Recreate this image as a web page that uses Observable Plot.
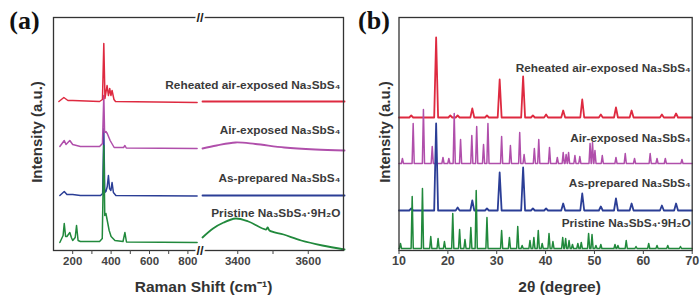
<!DOCTYPE html>
<html>
<head>
<meta charset="utf-8">
<script src="https://cdn.jsdelivr.net/npm/d3@7"></script>
<script src="https://cdn.jsdelivr.net/npm/@observablehq/plot@0.6"></script>
<style>
  html, body { margin: 0; padding: 0; background: #fff; }
  #wrap { position: relative; width: 700px; height: 298px; overflow: hidden; background: #fff; }
  #wrap svg { position: absolute; top: 0; }
</style>
</head>
<body>
<div id="wrap"></div>
<script>
// ---------------- DATA ----------------
const seriesNames = [
  "Reheated air-exposed Na₃SbS₄",
  "Air-exposed Na₃SbS₄",
  "As-prepared Na₃SbS₄",
  "Pristine Na₃SbS₄·9H₂O"
];

// Panel (a): Raman spectra (stacked, a.u.), low-shift and high-shift segments
const ramanTicks = [200, 300, 400, 500, 600, 700, 800, 3400, 3500, 3600];
const ramanTickLabels = [200, 400, 600, 800, 3400, 3600];

const reheatedLowShift = [128, 154, 175, 200, 340, 355, 362, 368, 379, 386, 393, 399, 405, 415, 423, 848];
const reheatedLowIntensity = [149, 153, 150, 150, 149, 151, 207, 152, 165, 155, 162, 155, 160, 151, 149, 148];
const reheatedHighShift = [3300, 3500, 3703];
const reheatedHighIntensity = [149, 149, 149];

const airLowShift = [133, 156, 165, 185, 200, 240, 340, 355, 362, 366, 373, 380, 395, 416, 465, 472, 479, 848];
const airLowIntensity = [104, 110, 106, 110, 106, 104, 104, 107, 155, 118, 119, 117, 110, 103, 103, 105, 102.5, 102];
const airHighShift = [3299, 3340, 3394, 3450, 3532, 3620, 3703];
const airHighIntensity = [102, 105, 108, 106.5, 103, 101, 100];

const asPreparedLowShift = [133, 156, 170, 200, 240, 345, 356, 362, 367, 373, 380, 386, 392, 399, 405, 412, 425, 848];
const asPreparedLowIntensity = [55, 59, 56, 56, 55, 55, 57, 122, 58, 59, 64, 75, 62, 60, 68, 58, 55, 54.5];
const asPreparedHighShift = [3299, 3703];
const asPreparedHighIntensity = [55, 55];

const pristineLowShift = [133, 150, 156, 163, 170, 185, 193, 200, 213, 220, 228, 240, 340, 354, 362, 367, 373, 380, 390, 400, 420, 462, 472, 480, 848];
const pristineLowIntensity = [8, 15, 27, 14, 14, 18, 13, 10, 13, 25, 10, 9, 9, 12, 105, 35, 37, 30, 20, 14, 10, 9, 18, 8.5, 8];
const pristineHighShift = [3299, 3330, 3360, 3394, 3430, 3480, 3485, 3490, 3530, 3580, 3640, 3703];
const pristineHighIntensity = [13, 22, 28, 32, 29, 21, 23, 20, 16, 10, 5, 1];

// Panel (b): XRD patterns, peaks as [2θ, height] above each stacked baseline
const xrdTicks = [10, 20, 30, 40, 50, 60, 70];
const xrdBaselines = [133, 87, 40, 2];

const reheatedPeaks = [[12.5, 2], [17.6, 80], [20.5, 2], [22.0, 2], [25.0, 9], [28.0, 2], [30.6, 38], [35.4, 41],
  [37.4, 2], [40.1, 3], [43.6, 7], [47.5, 18], [51.3, 3], [54.4, 10], [57.6, 7], [63.8, 3], [66.7, 4]];

const airPeaks = [[10.7, 5], [12.9, 40], [15.0, 54], [16.8, 17], [19.0, 6], [20.2, 5], [21.3, 50], [22.6, 24],
  [24.9, 28], [25.9, 37], [27.3, 19], [28.2, 40], [31.0, 27], [32.8, 18], [34.7, 31], [35.6, 9], [37.7, 15],
  [38.6, 24], [40.8, 16], [42.4, 6], [43.6, 11], [44.2, 9], [44.7, 11], [46.0, 8], [47.0, 7], [49.1, 20],
  [49.6, 21], [50.1, 13], [51.6, 8], [54.4, 6], [56.3, 10], [58.2, 5], [61.4, 10], [62.8, 5], [64.5, 5], [67.9, 4]];

const asPreparedPeaks = [[12.5, 2], [17.6, 87], [22.0, 3], [25.0, 10], [28.0, 2], [30.6, 38], [35.4, 43], [37.4, 2],
  [40.1, 2], [43.6, 7], [47.5, 17], [51.3, 4], [54.4, 12], [57.6, 7], [63.8, 5], [66.7, 7]];

const pristinePeaks = [[10.3, 5], [12.7, 52], [14.8, 60], [16.5, 12], [18.0, 10], [19.3, 7], [21.0, 35], [22.4, 19],
  [23.5, 9], [24.7, 21], [25.8, 58], [28.0, 31], [31.0, 18], [32.6, 11], [34.3, 22], [35.2, 3], [36.8, 8],
  [37.6, 11], [38.5, 18], [39.3, 5], [40.7, 15], [41.5, 7], [43.5, 11], [44.1, 10], [44.8, 8], [45.5, 4],
  [46.6, 5], [47.3, 6], [48.8, 15], [49.5, 14], [50.3, 3], [51.3, 4], [54.2, 4], [54.8, 3], [56.5, 8],
  [58.5, 2], [61.1, 5], [62.8, 3], [65.0, 3], [67.6, 2]];

// ---------------- STYLE / LAYOUT ----------------
const colors = ["#de2a40", "#b04fab", "#2b3e96", "#21893c"];
const textColor = "#3a3a3a";
const sans = "'Liberation Sans', Arial, Helvetica, sans-serif";
const serif = "'Liberation Serif', 'Times New Roman', serif";

function ramanTable(shifts, intensities) {
  return shifts.map((s, i) => ({shift: s, intensity: intensities[i]}));
}
function xrdTable(peaks, baseline, halfWidth) {
  const pts = [{angle: 10, intensity: baseline}];
  for (const [a, h] of peaks) {
    pts.push({angle: a - halfWidth, intensity: baseline});
    pts.push({angle: a, intensity: baseline + h});
    pts.push({angle: a + halfWidth, intensity: baseline});
  }
  pts.push({angle: 70, intensity: baseline});
  return pts;
}

const ramanSeries = [
  [reheatedLowShift, reheatedLowIntensity, reheatedHighShift, reheatedHighIntensity],
  [airLowShift, airLowIntensity, airHighShift, airHighIntensity],
  [asPreparedLowShift, asPreparedLowIntensity, asPreparedHighShift, asPreparedHighIntensity],
  [pristineLowShift, pristineLowIntensity, pristineHighShift, pristineHighIntensity]
];
const ramanOrder = [2, 3, 1, 0];
const ramanLines = [];
for (const i of ramanOrder) {
  const [ls, li, hs, hi] = ramanSeries[i];
  ramanLines.push(Plot.line(ramanTable(ls, li), {x: "shift", y: "intensity", stroke: colors[i], strokeWidth: 1.5, curve: "linear"}));
  ramanLines.push(Plot.line(ramanTable(hs, hi), {x: "shift", y: "intensity", stroke: colors[i], strokeWidth: 1.8, curve: "catmull-rom"}));
}

const ramanLabelY = [165, 120, 72, 37];
const xrdLabelY = [182, 112, 67, 27];
const breakShift = 2075;
const labelSize = 11.8;

const baseStyle = {fontFamily: sans, fontSize: "11px", fontWeight: "bold", color: textColor, background: "transparent", overflow: "visible"};

const plotA = Plot.plot({
  width: 350, height: 298,
  marginLeft: 53, marginRight: 7, marginTop: 17, marginBottom: 48,
  x: {type: "linear", domain: [100, 850, 3300, 3700], range: [53, 197, 202, 343]},
  y: {domain: [0, 233], axis: null},
  style: baseStyle,
  marks: [
    ...ramanLines,
    Plot.frame({stroke: "#333", strokeWidth: 1.3}),
    Plot.axisX(ramanTicks, {tickFormat: d => ramanTickLabels.includes(d) ? String(d) : "", tickSize: 4, tickPadding: 2, fontSize: 11.5, fontWeight: "bold", label: null, color: "#444"}),
    Plot.text([{s: breakShift, v: 233}, {s: breakShift, v: 0}], {x: "s", y: "v", text: () => "//", fontSize: 13, fontWeight: "bold", fill: "#222", stroke: "white", strokeWidth: 4, fontFamily: sans}),
    Plot.text(seriesNames.map((n, i) => ({n, v: ramanLabelY[i]})), {x: () => 3691, y: "v", text: "n", textAnchor: "end", fontSize: labelSize, fontWeight: "bold", fill: textColor, fontFamily: sans}),
    Plot.text(["Raman Shift (cm⁻¹)"], {frameAnchor: "bottom", textAnchor: "middle", lineAnchor: "middle", dy: 37, dx: 5, fontSize: 15.5, fontWeight: "bold", fill: "#333", fontFamily: sans}),
    Plot.text(["Intensity (a.u.)"], {frameAnchor: "left", textAnchor: "middle", lineAnchor: "middle", rotate: -90, dx: -16, dy: -2, fontSize: 15, fontWeight: "bold", fill: "#333", fontFamily: sans}),
    Plot.text(["(a)"], {frameAnchor: "top-left", textAnchor: "middle", lineAnchor: "middle", dx: -29, dy: 3, fontSize: 26, fontWeight: "bold", fill: "#111", fontFamily: serif})
  ]
});

const xrdOrder = [0, 1, 2, 3];
const xrdPeakSets = [reheatedPeaks, airPeaks, asPreparedPeaks, pristinePeaks];
const xrdHalfWidths = [0.4, 0.22, 0.4, 0.22];
const xrdLines = xrdOrder.map(i => Plot.line(xrdTable(xrdPeakSets[i], xrdBaselines[i], xrdHalfWidths[i]), {x: "angle", y: "intensity", stroke: colors[i], strokeWidth: i === 0 || i === 2 ? 1.8 : 1.5}));

const plotB = Plot.plot({
  width: 350, height: 298,
  marginLeft: 48.5, marginRight: 8.3, marginTop: 17, marginBottom: 48,
  x: {domain: [10, 70]},
  y: {domain: [0, 233], axis: null},
  style: baseStyle,
  marks: [
    ...xrdLines,
    Plot.frame({stroke: "#333", strokeWidth: 1.3}),
    Plot.axisX(xrdTicks, {tickSize: 4, tickPadding: 2, fontSize: 12.5, fontWeight: "bold", label: null, color: "#444"}),
    Plot.text(seriesNames.map((n, i) => ({n, v: xrdLabelY[i]})), {x: () => 69.7, y: "v", text: "n", textAnchor: "end", fontSize: labelSize, fontWeight: "bold", fill: textColor, fontFamily: sans}),
    Plot.text(["2θ (degree)"], {frameAnchor: "bottom", textAnchor: "middle", lineAnchor: "middle", dy: 37, dx: 14, fontSize: 15.5, fontWeight: "bold", fill: "#333", fontFamily: sans}),
    Plot.text(["Intensity (a.u.)"], {frameAnchor: "left", textAnchor: "middle", lineAnchor: "middle", rotate: -90, dx: -14, dy: -2, fontSize: 15, fontWeight: "bold", fill: "#333", fontFamily: sans}),
    Plot.text(["(b)"], {frameAnchor: "top-left", textAnchor: "middle", lineAnchor: "middle", dx: -25, dy: 3, fontSize: 26, fontWeight: "bold", fill: "#111", fontFamily: serif})
  ]
});

const wrap = document.getElementById("wrap");
plotA.style.left = "0px";
plotB.style.left = "350px";
wrap.appendChild(plotA);
wrap.appendChild(plotB);
</script>
</body>
</html>
